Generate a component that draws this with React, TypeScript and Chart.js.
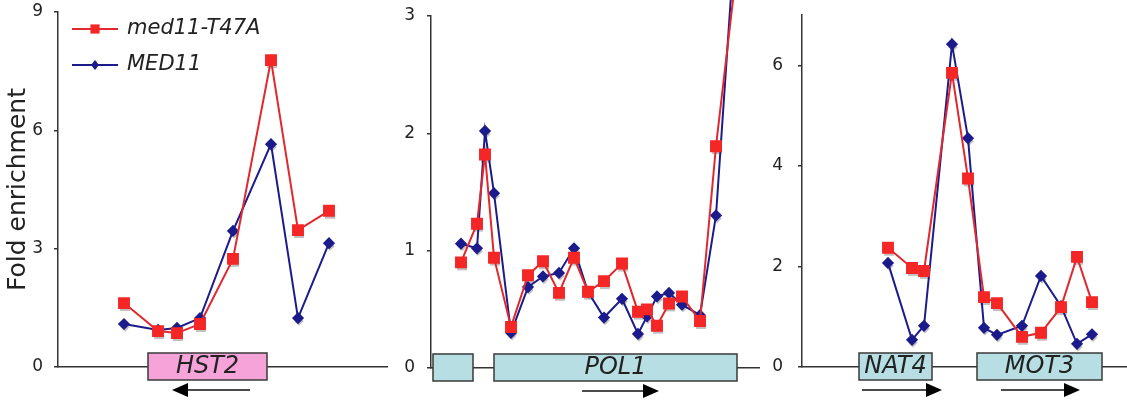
import React, { useEffect, useRef } from 'react';
import { Chart, registerables } from 'chart.js';

Chart.register(...registerables);

// ---------- data ----------
const seriesNames = ['med11-T47A', 'MED11'];

// HST2 locus (position along the locus, arbitrary units)
const hst2Pos = [66, 100, 119, 142, 175, 213, 240, 271];
const hst2Mut = [1.62, 0.91, 0.86, 1.09, 2.74, 7.78, 3.47, 3.96];
const hst2Wt = [1.09, 0.94, 0.99, 1.24, 3.45, 5.65, 1.24, 3.14];
const hst2Genes = [{ label: 'HST2', start: 90, end: 209 }];
const hst2Arrows = [{ from: 192, to: 114 }];
const hst2YTicks = [0, 3, 6, 9];

// POL1 locus
const pol1Pos = [30, 46, 54, 63, 80, 97, 112, 128, 143, 157, 173, 191, 207, 216, 226, 238, 251, 269, 285, 309];
const pol1Mut = [0.9, 1.23, 1.82, 0.94, 0.35, 0.79, 0.91, 0.64, 0.94, 0.65, 0.74, 0.89, 0.48, 0.5, 0.36, 0.55, 0.61, 0.4, 1.89, 3.65];
const pol1Wt = [1.06, 1.02, 2.02, 1.49, 0.3, 0.69, 0.78, 0.81, 1.02, 0.65, 0.43, 0.59, 0.29, 0.44, 0.61, 0.64, 0.54, 0.45, 1.3, 4.3];
const pol1Genes = [
  { label: '', start: 2, end: 42 },
  { label: 'POL1', start: 63, end: 306 },
];
const pol1Arrows = [{ from: 151, to: 228 }];
const pol1YTicks = [0, 1, 2, 3];

// NAT4 / MOT3 locus
const mot3Pos = [86, 110, 122, 150, 166, 182, 195, 220, 239, 259, 275, 290];
const mot3Mut = [2.37, 1.97, 1.91, 5.85, 3.75, 1.39, 1.27, 0.6, 0.68, 1.19, 2.19, 1.29];
const mot3Wt = [2.07, 0.54, 0.82, 6.42, 4.55, 0.78, 0.64, 0.82, 1.81, 1.21, 0.46, 0.65];
const mot3Genes = [
  { label: 'NAT4', start: 57, end: 130 },
  { label: 'MOT3', start: 175, end: 300 },
];
const mot3Arrows = [
  { from: 60, to: 140 },
  { from: 199, to: 278 },
];
const mot3YTicks = [0, 2, 4, 6];

// ---------- styles ----------
const FONT = "'DejaVu Sans', Verdana, sans-serif";
const RED = '#e0282e';
const BLUE = '#1b1b8c';
const AXIS = '#333333';
const TEXT = '#222222';

type Gene = { label: string; start: number; end: number };
type Arrow = { from: number; to: number };

interface PanelProps {
  left: number;
  width: number;
  axisWidth: number;
  topPad: number;
  bottomH: number;
  xMax: number;
  yMax: number;
  yTicks: number[];
  tickPad: number;
  pos: number[];
  mut: number[];
  wt: number[];
  genes: Gene[];
  arrows: Arrow[];
  geneFill: string;
  showTitle?: boolean;
  showKey?: boolean;
}

function Panel(p: PanelProps) {
  const ref = useRef<HTMLCanvasElement>(null);

  useEffect(() => {
    if (!ref.current) return;

    const shadowPlugin = {
      id: 'markerShadow',
      beforeDatasetsDraw(chart: any) {
        const ctx = chart.ctx;
        ctx.save();
        ctx.fillStyle = 'rgba(140,140,140,0.55)';
        chart.data.datasets.forEach((ds: any, i: number) => {
          const meta = chart.getDatasetMeta(i);
          meta.data.forEach((pt: any) => {
            const x = pt.x + 1;
            const y = pt.y + 3;
            ctx.beginPath();
            if (ds.pointStyle === 'rect') {
              const s = ds.pointRadius * Math.SQRT1_2;
              ctx.rect(x - s, y - s, 2 * s, 2 * s);
            } else {
              const r = ds.pointRadius;
              ctx.moveTo(x, y - r);
              ctx.lineTo(x + r, y);
              ctx.lineTo(x, y + r);
              ctx.lineTo(x - r, y);
              ctx.closePath();
            }
            ctx.fill();
          });
        });
        ctx.restore();
      },
    };

    const genePlugin = {
      id: 'genes',
      afterDraw(chart: any) {
        const ctx = chart.ctx;
        const xs = chart.scales.x;
        const ys = chart.scales.y;
        const y0 = ys.getPixelForValue(0);
        ctx.save();
        for (const g of p.genes) {
          const l = xs.getPixelForValue(g.start);
          const r = xs.getPixelForValue(g.end);
          ctx.fillStyle = p.geneFill;
          ctx.fillRect(l, y0 - 14, r - l, 27);
          ctx.strokeStyle = '#3a3a3a';
          ctx.lineWidth = 1.5;
          ctx.strokeRect(l, y0 - 14, r - l, 27);
          if (g.label) {
            ctx.fillStyle = TEXT;
            ctx.font = `italic 24px ${FONT}`;
            ctx.textAlign = 'center';
            ctx.textBaseline = 'middle';
            ctx.fillText(g.label, (l + r) / 2, y0);
          }
        }
        for (const a of p.arrows) {
          const f = xs.getPixelForValue(a.from);
          const t = xs.getPixelForValue(a.to);
          const dir = t > f ? 1 : -1;
          const ya = y0 + 23;
          ctx.strokeStyle = '#111';
          ctx.lineWidth = 1.5;
          ctx.beginPath();
          ctx.moveTo(f, ya);
          ctx.lineTo(t - dir * 12, ya);
          ctx.stroke();
          ctx.fillStyle = '#000';
          ctx.beginPath();
          ctx.moveTo(t, ya);
          ctx.lineTo(t - dir * 16, ya - 7);
          ctx.lineTo(t - dir * 16, ya + 7);
          ctx.closePath();
          ctx.fill();
        }
        ctx.restore();
      },
    };

    const keyPlugin = {
      id: 'seriesKey',
      afterDraw(chart: any) {
        if (!p.showKey) return;
        const ctx = chart.ctx;
        ctx.save();
        chart.data.datasets.forEach((ds: any, i: number) => {
          const y = 29 + i * 36;
          ctx.strokeStyle = ds.borderColor;
          ctx.lineWidth = 2;
          ctx.beginPath();
          ctx.moveTo(72, y);
          ctx.lineTo(118, y);
          ctx.stroke();
          ctx.fillStyle = ds.pointBackgroundColor;
          ctx.beginPath();
          if (ds.pointStyle === 'rect') {
            ctx.rect(95 - 4.6, y - 4.6, 9.2, 9.2);
          } else {
            ctx.moveTo(95, y - 5);
            ctx.lineTo(99, y);
            ctx.lineTo(95, y + 5);
            ctx.lineTo(91, y);
            ctx.closePath();
          }
          ctx.fill();
          ctx.fillStyle = TEXT;
          ctx.font = `italic 21px ${FONT}`;
          ctx.textAlign = 'left';
          ctx.textBaseline = 'middle';
          ctx.fillText(ds.label, 127, y);
        });
        ctx.restore();
      },
    };

    const chart = new Chart(ref.current, {
      type: 'line',
      data: {
        datasets: [
          {
            label: seriesNames[0],
            data: p.pos.map((x, i) => ({ x, y: p.mut[i] })),
            borderColor: RED,
            backgroundColor: RED,
            pointBackgroundColor: '#f52626',
            pointBorderColor: '#f52626',
            pointStyle: 'rect',
            pointRadius: 7,
            borderWidth: 2,
            tension: 0,
            clip: false as any,
          },
          {
            label: seriesNames[1],
            data: p.pos.map((x, i) => ({ x, y: p.wt[i] })),
            borderColor: BLUE,
            backgroundColor: BLUE,
            pointBackgroundColor: BLUE,
            pointBorderColor: BLUE,
            pointStyle: 'rectRot',
            pointRadius: 4.7,
            borderWidth: 2,
            tension: 0,
            clip: false as any,
          },
        ],
      },
      options: {
        animation: false,
        responsive: false,
        events: [],
        layout: { autoPadding: false, padding: 0 },
        plugins: {
          legend: { display: false },
          tooltip: { enabled: false },
        },
        scales: {
          x: {
            type: 'linear',
            min: 0,
            max: p.xMax,
            ticks: { display: false },
            grid: { display: true, drawOnChartArea: false, drawTicks: false },
            border: { display: true, color: AXIS, width: 1.5 },
            afterFit: (s: any) => {
              s.height = p.bottomH;
              s.paddingLeft = 0;
              s.paddingRight = 0;
            },
          },
          y: {
            type: 'linear',
            min: 0,
            max: p.yMax,
            afterBuildTicks: (s: any) => {
              s.ticks = p.yTicks.map((v) => ({ value: v }));
            },
            ticks: {
              font: { family: FONT, size: 17 },
              color: TEXT,
              padding: p.tickPad,
            },
            grid: {
              display: true,
              drawOnChartArea: false,
              drawTicks: true,
              tickLength: 4,
              color: AXIS,
              lineWidth: 1.5,
            },
            border: { display: true, color: AXIS, width: 1.5 },
            title: {
              display: !!p.showTitle,
              text: 'Fold enrichment',
              font: { family: FONT, size: 25 },
              color: TEXT,
              padding: { top: 3, bottom: 0 },
            },
            afterFit: (s: any) => {
              s.width = p.axisWidth;
              s.paddingTop = p.topPad;
              s.paddingBottom = 0;
            },
          },
        },
      },
      plugins: [shadowPlugin, genePlugin, keyPlugin],
    });

    return () => chart.destroy();
  }, []);

  return (
    <canvas
      ref={ref}
      width={p.width}
      height={400}
      style={{ position: 'absolute', left: p.left, top: 0, width: p.width, height: 400, display: 'block' }}
    />
  );
}

export default function App() {
  return (
    <div style={{ position: 'absolute', left: 0, top: 0, width: 1127, height: 400, background: '#fff', overflow: 'hidden' }}>
      <Panel
        left={0}
        width={388}
        axisWidth={58}
        topPad={12}
        bottomH={33}
        xMax={330}
        yMax={9}
        yTicks={hst2YTicks}
        tickPad={11}
        pos={hst2Pos}
        mut={hst2Mut}
        wt={hst2Wt}
        genes={hst2Genes}
        arrows={hst2Arrows}
        geneFill="#f5a3d9"
        showTitle
        showKey
      />
      <Panel
        left={388}
        width={372}
        axisWidth={43}
        topPad={16}
        bottomH={32}
        xMax={329}
        yMax={3}
        yTicks={pol1YTicks}
        tickPad={12}
        pos={pol1Pos}
        mut={pol1Mut}
        wt={pol1Wt}
        genes={pol1Genes}
        arrows={pol1Arrows}
        geneFill="#b6dee3"
      />
      <Panel
        left={760}
        width={367}
        axisWidth={42}
        topPad={15}
        bottomH={33}
        xMax={325}
        yMax={7}
        yTicks={mot3YTicks}
        tickPad={15}
        pos={mot3Pos}
        mut={mot3Mut}
        wt={mot3Wt}
        genes={mot3Genes}
        arrows={mot3Arrows}
        geneFill="#b6dee3"
      />
    </div>
  );
}
